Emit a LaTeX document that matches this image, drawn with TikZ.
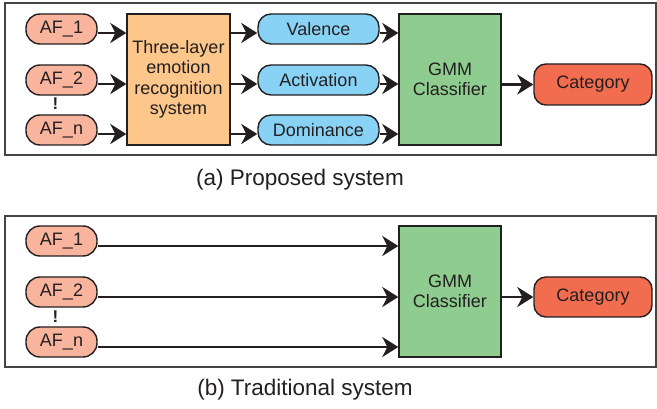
\documentclass[tikz,border=0pt]{standalone}
\usepackage{fontspec}
\setmainfont{Liberation Sans}
\usetikzlibrary{arrows.meta}
\definecolor{afc}{HTML}{F8B49C}
\definecolor{dimc}{HTML}{88D3F5}
\definecolor{orc}{HTML}{FDC68A}
\definecolor{grc}{HTML}{8FCC8F}
\definecolor{catc}{HTML}{F26C4F}
\definecolor{linec}{HTML}{231F20}
\definecolor{framec}{HTML}{444444}
\tikzset{
  base/.style={draw=linec, line width=1.4pt, inner sep=0pt, align=center,
    font=\fontsize{18}{20.5}\selectfont, text=linec},
  afbox/.style={base, fill=afc, rounded corners=14pt, minimum width=71pt, minimum height=30pt},
  dimbox/.style={base, fill=dimc, rounded corners=13pt, minimum width=121pt, minimum height=30pt},
  bigbox/.style={base, minimum width=102pt, minimum height=131pt},
  catbox/.style={base, fill=catc, rounded corners=12pt, minimum width=118pt, minimum height=41pt},
  arr/.style={draw=linec, line width=2.2pt, -{Stealth[length=16pt,width=20pt,inset=5pt]}},
  panel/.style={draw=framec, line width=1.5pt},
  captext/.style={font=\fontsize{22.5}{26}\selectfont, text=linec},
  dotsmark/.style={font=\fontsize{17}{18}\selectfont\bfseries, text=linec, inner sep=0pt}
}
\begin{document}
\begin{tikzpicture}[x=1pt,y=-1pt]
\useasboundingbox (0,0) rectangle (657,409);
% panel (a)
\draw[panel] (5,3) rectangle (656,155);
\node[afbox] (a1) at (61.5,29) {AF\_1};
\node[afbox] (a2) at (61.5,80) {AF\_2};
\node[afbox] (an) at (61.5,130) {AF\_n};
\node[dotsmark] (ad) at (55.5,104) {!};
\node[bigbox, fill=orc, minimum width=103pt] (three) at (178.5,79.5) {Three-layer\\emotion\\recognition\\system};
\node[dimbox] (val) at (318.5,29) {Valence};
\node[dimbox] (act) at (318.5,80) {Activation};
\node[dimbox] (dom) at (318.5,130) {Dominance};
\node[bigbox, fill=grc] (gmma) at (450,79.5) {GMM\\Classifier};
\node[catbox] (cata) at (593,84.5) {Category};
\foreach \s/\t in {a1/val, a2/act, an/dom}{
  \draw[arr] ([yshift=-4pt]\s.east) -- ([yshift=-4pt]\s.east -| three.west);
  \draw[arr] ([yshift=-4pt]\t.west -| three.east) -- ([yshift=-4pt]\t.west);
  \draw[arr] ([yshift=-4pt]\t.east) -- ([yshift=-4pt]\t.east -| gmma.west);
}
\draw[arr] (gmma.east |- cata.west) -- (cata.west);
\node[captext] (capa) at (300,180) {(a) Proposed system};
% panel (b)
\draw[panel] (5,216) rectangle (656,367);
\node[afbox] (b1) at (61.5,241) {AF\_1};
\node[afbox] (b2) at (61.5,292) {AF\_2};
\node[afbox] (bn) at (61.5,342) {AF\_n};
\node[dotsmark] (bd) at (55.5,317) {!};
\node[bigbox, fill=grc] (gmmb) at (450,291.5) {GMM\\Classifier};
\node[catbox, minimum height=40pt] (catb) at (593,297) {Category};
\foreach \s in {b1, b2, bn}{
  \draw[arr] ([yshift=-5pt]\s.east) -- ([yshift=-5pt]\s.east -| gmmb.west);
}
\draw[arr] (gmmb.east |- catb.west) -- (catb.west);
\node[captext] (capb) at (305,390) {(b) Traditional system};
\end{tikzpicture}
\end{document}
